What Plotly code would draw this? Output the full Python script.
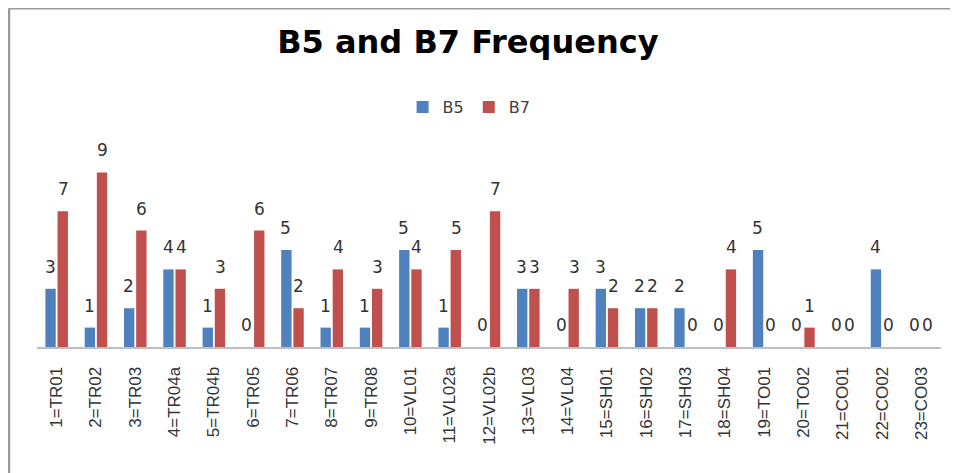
import plotly.graph_objects as go

categories = ["1=TR01", "2=TR02", "3=TR03", "4=TR04a", "5=TR04b", "6=TR05", "7=TR06",
              "8=TR07", "9=TR08", "10=VL01", "11=VL02a", "12=VL02b", "13=VL03", "14=VL04",
              "15=SH01", "16=SH02", "17=SH03", "18=SH04", "19=TO01", "20=TO02", "21=CO01",
              "22=CO02", "23=CO03"]
b5 = [3, 1, 2, 4, 1, 0, 5, 1, 1, 5, 1, 0, 3, 0, 3, 2, 2, 0, 5, 0, 0, 4, 0]
b7 = [7, 9, 6, 4, 3, 6, 2, 4, 3, 4, 5, 7, 3, 3, 2, 2, 0, 4, 0, 1, 0, 0, 0]

BLUE = "#4F81BD"
RED = "#C0504D"
LABEL_FONT = dict(family="DejaVu Sans, sans-serif", size=17, color="#333333")

fig = go.Figure()
fig.add_trace(go.Bar(name="B5", x=categories, y=b5, marker=dict(color=BLUE, line=dict(width=0))))
fig.add_trace(go.Bar(name="B7", x=categories, y=b7, marker=dict(color=RED, line=dict(width=0))))

annotations = []
for series, shift in ((b5, -6.5), (b7, 6.5)):
    for c, v in zip(categories, series):
        annotations.append(dict(x=c, y=v, xref="x", yref="y", text=str(v), showarrow=False,
                                xshift=shift, yshift=22, yanchor="middle", xanchor="center",
                                font=LABEL_FONT))

fig.update_layout(
    width=958, height=473,
    margin=dict(l=29, r=25, t=145, b=134, pad=0, autoexpand=False),
    paper_bgcolor="white", plot_bgcolor="white",
    barmode="group", bargap=0.38, bargroupgap=0.15,
    title=dict(text="<b>B5 and B7 Frequency</b>", x=0.480, xref="container", xanchor="center",
               y=1 - 34 / 473, yref="container", yanchor="middle", automargin=False,
               font=dict(family="DejaVu Sans, sans-serif", size=32, color="#000000")),
    legend=dict(orientation="h", x=0.478, xanchor="center", y=1.236, yanchor="middle",
                font=dict(family="DejaVu Sans, sans-serif", size=16, color="#404040"),
                itemwidth=30, tracegroupgap=0, bgcolor="rgba(0,0,0,0)"),
    showlegend=True,
    annotations=annotations,
    xaxis=dict(showline=True, linecolor="#BFBFBF", linewidth=2, showgrid=False, ticks="",
               tickangle=-90, ticklabelstandoff=11, automargin=False,
               tickfont=dict(family="Liberation Sans, Arial, sans-serif", size=17, color="#333333")),
    yaxis=dict(visible=False, range=[0, 10], showgrid=False, zeroline=False, automargin=False),
    shapes=[
        dict(type="line", xref="paper", yref="paper", x0=-0.031, x1=1.05, y0=1.746, y1=1.746,
             line=dict(color="#9A9A9A", width=2.5)),
        dict(type="line", xref="paper", yref="paper", x0=-0.031, x1=-0.031, y0=-0.7, y1=1.746,
             line=dict(color="#9A9A9A", width=2.5)),
    ],
)

fig.write_html("out.html")
